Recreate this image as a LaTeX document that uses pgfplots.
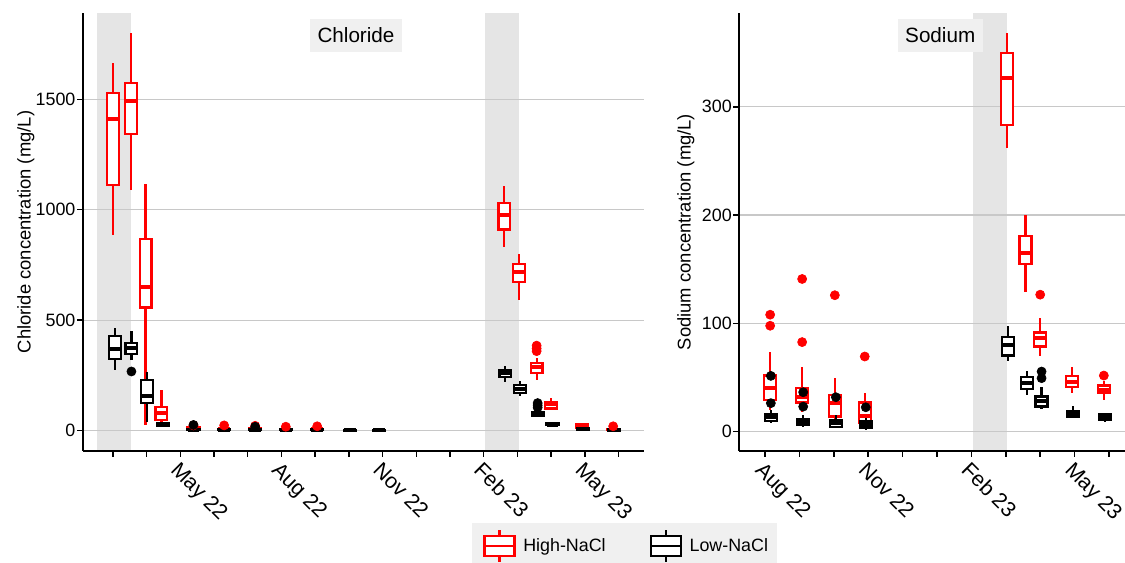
\documentclass[border=0pt]{standalone}
\usepackage{fontspec}
\setmainfont{Liberation Sans}
\usepackage{pgfplots}
\pgfplotsset{compat=1.18}
\usepgfplotslibrary{statistics}
\definecolor{shade}{RGB}{229,229,229}
\definecolor{stripbg}{RGB}{240,240,240}
\definecolor{gridc}{RGB}{200,200,200}

\pgfplotsset{
  panel/.style={
    scale only axis, set layers=standard,
    axis x line*=bottom, axis y line*=left,
    axis line style={line width=1.3pt, -},
    tick align=outside, major tick length=4.5pt, minor tick length=4.5pt,
    tick style={black, line width=1.1pt},
    ymajorgrids, major grid style={gridc, line width=1pt},
    /pgf/number format/assume math mode=true,
    /pgf/number format/1000 sep={},
    yticklabel style={font=\fontsize{13.4}{16}\selectfont, inner xsep=1pt},
    xticklabel style={font=\fontsize{16}{18}\selectfont, rotate=-45, anchor=north west, inner sep=2pt},
    label style={font=\fontsize{13.8}{16}\selectfont},
  },
  bx/.style={line width=1.7pt, boxplot/draw direction=y,
    boxplot/box extend=0.35, boxplot/whisker extend=0,
    boxplot/every box/.style={fill=white},
    boxplot/every median/.style={line width=3pt},
    mark=*, mark size=3.4pt},
  bxr/.style={bx, red, mark options={fill=red, line width=0.5pt}},
  bxk/.style={bx, black, mark options={fill=black, line width=0.5pt}},
}

\begin{document}
\begin{tikzpicture}

% ---- Chloride ----
\begin{axis}[panel, at={(62.25pt,84.225pt)}, anchor=south west,
  width=420.75pt, height=328.05pt,
  xmin=2.113, xmax=18.755, ymin=-90.5, ymax=1889,
  ytick={0,500,1000,1500},
  xtick={5,8,11,14,17},
  xticklabels={May 22,Aug 22,Nov 22,Feb 23,May 23},
  minor xtick={3,4,6,7,9,10,12,13,15,16,18},
  ylabel={Chloride concentration (mg/L)},
  ylabel style={at={(axis description cs:-0.0932,0.5)}, anchor=base},
]
\addplot[fill=shade, draw=none, on layer=axis background] coordinates {(2.528,-90.5) (3.528,-90.5) (3.528,1889) (2.528,1889)} -- cycle;
\addplot[fill=shade, draw=none, on layer=axis background] coordinates {(14.038,-90.5) (15.038,-90.5) (15.038,1889) (14.038,1889)} -- cycle;

% High-NaCl
\addplot[bxr, boxplot prepared={draw position=3.01, lower whisker=884, lower quartile=1112, median=1410, upper quartile=1527, upper whisker=1662}] coordinates {};
\addplot[bxr, boxplot prepared={draw position=3.53, lower whisker=1089, lower quartile=1343, median=1493, upper quartile=1572, upper whisker=1798}] coordinates {};
\addplot[bxr, boxplot prepared={draw position=3.97, lower whisker=25, lower quartile=557, median=652, upper quartile=866, upper whisker=1116}] coordinates {};
\addplot[bxr, boxplot prepared={draw position=4.44, lower whisker=26, lower quartile=48, median=79, upper quartile=106, upper whisker=184}] coordinates {};
\addplot[bxr, boxplot prepared={draw position=5.39, lower whisker=3, lower quartile=7, median=10, upper quartile=14, upper whisker=20}] coordinates {(0,24)};
\addplot[bxr, boxplot prepared={draw position=6.30, lower whisker=2, lower quartile=4, median=6, upper quartile=9, upper whisker=14}] coordinates {(0,24)};
\addplot[bxr, boxplot prepared={draw position=7.22, lower whisker=2, lower quartile=4, median=7, upper quartile=10, upper whisker=14}] coordinates {(0,22)};
\addplot[bxr, boxplot prepared={draw position=8.13, lower whisker=1, lower quartile=3, median=5, upper quartile=8, upper whisker=12}] coordinates {(0,18)};
\addplot[bxr, boxplot prepared={draw position=9.06, lower whisker=2, lower quartile=4, median=6, upper quartile=9, upper whisker=13}] coordinates {(0,20)};
\addplot[bxr, boxplot prepared={draw position=10.03, lower whisker=0.5, lower quartile=1.5, median=2.5, upper quartile=3.5, upper whisker=5}] coordinates {};
\addplot[bxr, boxplot prepared={draw position=10.9, lower whisker=0.5, lower quartile=1.5, median=2.5, upper quartile=3.5, upper whisker=5}] coordinates {};
\addplot[bxr, boxplot prepared={draw position=14.61, lower whisker=830, lower quartile=911, median=977, upper quartile=1029, upper whisker=1107}] coordinates {};
\addplot[bxr, boxplot prepared={draw position=15.04, lower whisker=591, lower quartile=674, median=720, upper quartile=754, upper whisker=800}] coordinates {};
\addplot[bxr, boxplot prepared={draw position=15.57, lower whisker=229, lower quartile=262, median=287, upper quartile=305, upper whisker=327}] coordinates {(0,360) (0,372) (0,385)};
\addplot[bxr, boxplot prepared={draw position=16.0, lower whisker=97, lower quartile=101, median=119, upper quartile=131, upper whisker=147}] coordinates {};
\addplot[bxr, boxplot prepared={draw position=16.92, lower whisker=8, lower quartile=12, median=20, upper quartile=30, upper whisker=37}] coordinates {};
\addplot[bxr, boxplot prepared={draw position=17.84, lower whisker=0.5, lower quartile=2, median=4, upper quartile=7, upper whisker=10}] coordinates {(0,20)};

% Low-NaCl
\addplot[bxk, boxplot prepared={draw position=3.06, lower whisker=275, lower quartile=323, median=368, upper quartile=428, upper whisker=463}] coordinates {};
\addplot[bxk, boxplot prepared={draw position=3.55, lower whisker=320, lower quartile=348, median=373, upper quartile=396, upper whisker=451}] coordinates {(0,268)};
\addplot[bxk, boxplot prepared={draw position=4.01, lower whisker=41, lower quartile=127, median=155, upper quartile=229, upper whisker=267}] coordinates {};
\addplot[bxk, boxplot prepared={draw position=4.48, lower whisker=15, lower quartile=20, median=28, upper quartile=36, upper whisker=41}] coordinates {};
\addplot[bxk, boxplot prepared={draw position=5.39, lower whisker=1, lower quartile=3, median=5, upper quartile=8, upper whisker=12}] coordinates {(0,26)};
\addplot[bxk, boxplot prepared={draw position=6.30, lower whisker=1, lower quartile=2, median=4, upper quartile=6, upper whisker=9}] coordinates {};
\addplot[bxk, boxplot prepared={draw position=7.22, lower whisker=1, lower quartile=2, median=4, upper quartile=6, upper whisker=9}] coordinates {(0,18)};
\addplot[bxk, boxplot prepared={draw position=8.13, lower whisker=1, lower quartile=2, median=3, upper quartile=5, upper whisker=8}] coordinates {};
\addplot[bxk, boxplot prepared={draw position=9.06, lower whisker=1, lower quartile=2, median=3, upper quartile=5, upper whisker=8}] coordinates {};
\addplot[bxk, boxplot prepared={draw position=10.03, lower whisker=0.5, lower quartile=1, median=2, upper quartile=3, upper whisker=4}] coordinates {};
\addplot[bxk, boxplot prepared={draw position=10.9, lower whisker=0.5, lower quartile=1, median=2, upper quartile=3, upper whisker=4}] coordinates {};
\addplot[bxk, boxplot prepared={draw position=14.64, lower whisker=222, lower quartile=242, median=260, upper quartile=275, upper whisker=294}] coordinates {};
\addplot[bxk, boxplot prepared={draw position=15.08, lower whisker=158, lower quartile=172, median=187, upper quartile=207, upper whisker=226}] coordinates {};
\addplot[bxk, boxplot prepared={draw position=15.60, lower whisker=61, lower quartile=67, median=79, upper quartile=86, upper whisker=94}] coordinates {(0,105) (0,115) (0,125)};
\addplot[bxk, boxplot prepared={draw position=16.04, lower whisker=22, lower quartile=25, median=28, upper quartile=32, upper whisker=35}] coordinates {};
\addplot[bxk, boxplot prepared={draw position=16.95, lower whisker=1, lower quartile=3, median=7, upper quartile=12, upper whisker=15}] coordinates {};
\addplot[bxk, boxplot prepared={draw position=17.87, lower whisker=0.5, lower quartile=1, median=3, upper quartile=5, upper whisker=7}] coordinates {};

\node[fill=stripbg, font=\fontsize{15.5}{18}\selectfont, minimum height=24.3pt, inner xsep=5.5pt, inner ysep=0pt] at (rel axis cs:0.4866,0.949) {Chloride};
\end{axis}

% ---- Sodium ----
\begin{axis}[panel, at={(554.475pt,84.225pt)}, anchor=south west,
  width=289.275pt, height=328.05pt,
  xmin=7.253, xmax=18.465, ymin=-17.6, ymax=386.4,
  ytick={0,100,200,300},
  xtick={8,11,14,17},
  xticklabels={Aug 22,Nov 22,Feb 23,May 23},
  minor xtick={9,10,12,13,15,16,18},
  ylabel={Sodium concentration (mg/L)},
  ylabel style={at={(axis description cs:-0.126,0.5)}, anchor=base},
]
\addplot[fill=shade, draw=none, on layer=axis background] coordinates {(14.038,-17.6) (15.038,-17.6) (15.038,386.4) (14.038,386.4)} -- cycle;

% High-NaCl
\addplot[bxr, boxplot prepared={draw position=8.15, lower whisker=20, lower quartile=29.3, median=40.7, upper quartile=51.8, upper whisker=73.4}] coordinates {(0,97.8) (0,108)};
\addplot[bxr, boxplot prepared={draw position=9.08, lower whisker=18, lower quartile=26.9, median=32.4, upper quartile=40, upper whisker=59.5}] coordinates {(0,82.7) (0,141)};
\addplot[bxr, boxplot prepared={draw position=10.03, lower whisker=8, lower quartile=13.9, median=26.3, upper quartile=34, upper whisker=49.4}] coordinates {(0,126)};
\addplot[bxr, boxplot prepared={draw position=10.9, lower whisker=3, lower quartile=7.8, median=14, upper quartile=26.9, upper whisker=35.5}] coordinates {(0,69.4)};
\addplot[bxr, boxplot prepared={draw position=15.03, lower whisker=262, lower quartile=283, median=327, upper quartile=350, upper whisker=368.5}] coordinates {};
\addplot[bxr, boxplot prepared={draw position=15.57, lower whisker=128.6, lower quartile=155, median=165, upper quartile=181, upper whisker=199.8}] coordinates {};
\addplot[bxr, boxplot prepared={draw position=16.0, lower whisker=70, lower quartile=78.6, median=86.4, upper quartile=91.6, upper whisker=104.9}] coordinates {(0,126.5)};
\addplot[bxr, boxplot prepared={draw position=16.93, lower whisker=36.1, lower quartile=41.1, median=46.3, upper quartile=51.5, upper whisker=60.1}] coordinates {};
\addplot[bxr, boxplot prepared={draw position=17.85, lower whisker=29.3, lower quartile=35.5, median=38.6, upper quartile=42.6, upper whisker=47.2}] coordinates {(0,51.8)};

% Low-NaCl
\addplot[bxk, boxplot prepared={draw position=8.17, lower whisker=7.8, lower quartile=9.9, median=13.3, upper quartile=16.1, upper whisker=20}] coordinates {(0,26.3) (0,51.5)};
\addplot[bxk, boxplot prepared={draw position=9.11, lower whisker=4.7, lower quartile=6.2, median=8.7, upper quartile=11.5, upper whisker=15.5}] coordinates {(0,23.1) (0,36.4)};
\addplot[bxk, boxplot prepared={draw position=10.06, lower whisker=3.6, lower quartile=4.6, median=7.8, upper quartile=10.2, upper whisker=15.5}] coordinates {(0,31.8)};
\addplot[bxk, boxplot prepared={draw position=10.93, lower whisker=1.6, lower quartile=3.1, median=6.2, upper quartile=9.3, upper whisker=12.4}] coordinates {(0,22.5)};
\addplot[bxk, boxplot prepared={draw position=15.06, lower whisker=64.8, lower quartile=70.3, median=80.2, upper quartile=87.3, upper whisker=97.8}] coordinates {};
\addplot[bxk, boxplot prepared={draw position=15.61, lower whisker=34, lower quartile=39.2, median=45.3, upper quartile=50.3, upper whisker=56.4}] coordinates {};
\addplot[bxk, boxplot prepared={draw position=16.04, lower whisker=20.7, lower quartile=23.1, median=28.7, upper quartile=32.4, upper whisker=41.6}] coordinates {(0,49.4) (0,55.5)};
\addplot[bxk, boxplot prepared={draw position=16.96, lower whisker=12.4, lower quartile=13.3, median=16.1, upper quartile=18.5, upper whisker=23.8}] coordinates {};
\addplot[bxk, boxplot prepared={draw position=17.88, lower whisker=8.7, lower quartile=10.8, median=13.3, upper quartile=16.1, upper whisker=17.6}] coordinates {};

\node[fill=stripbg, font=\fontsize{15.5}{18}\selectfont, minimum height=24.3pt, inner xsep=5.5pt, inner ysep=0pt] at (rel axis cs:0.521,0.949) {Sodium};
\end{axis}

% ---- legend ----
\begin{scope}[x=0.75pt, y=0.75pt]
\fill[stripbg] (472,0) rectangle (777,40);
\draw[red, line width=1.7pt] (499.5,1) -- (499.5,33);
\draw[red, line width=1.7pt, fill=white] (484.5,7) rectangle (514.5,27.3);
\draw[red, line width=1.7pt] (484.5,17.2) -- (514.5,17.2);
\node[anchor=base west, inner sep=0pt, font=\fontsize{13.4}{16}\selectfont] at (523,11.3) {High-NaCl};
\draw[black, line width=1.7pt] (665.7,1) -- (665.7,33);
\draw[black, line width=1.7pt, fill=white] (650.7,7) rectangle (680.7,27.3);
\draw[black, line width=1.7pt] (650.7,17.2) -- (680.7,17.2);
\node[anchor=base west, inner sep=0pt, font=\fontsize{13.4}{16}\selectfont] at (689.3,11.3) {Low-NaCl};
\end{scope}

\pgfresetboundingbox
\path[use as bounding box] (0,0) rectangle (843.75pt,422.25pt);
\end{tikzpicture}
\end{document}
